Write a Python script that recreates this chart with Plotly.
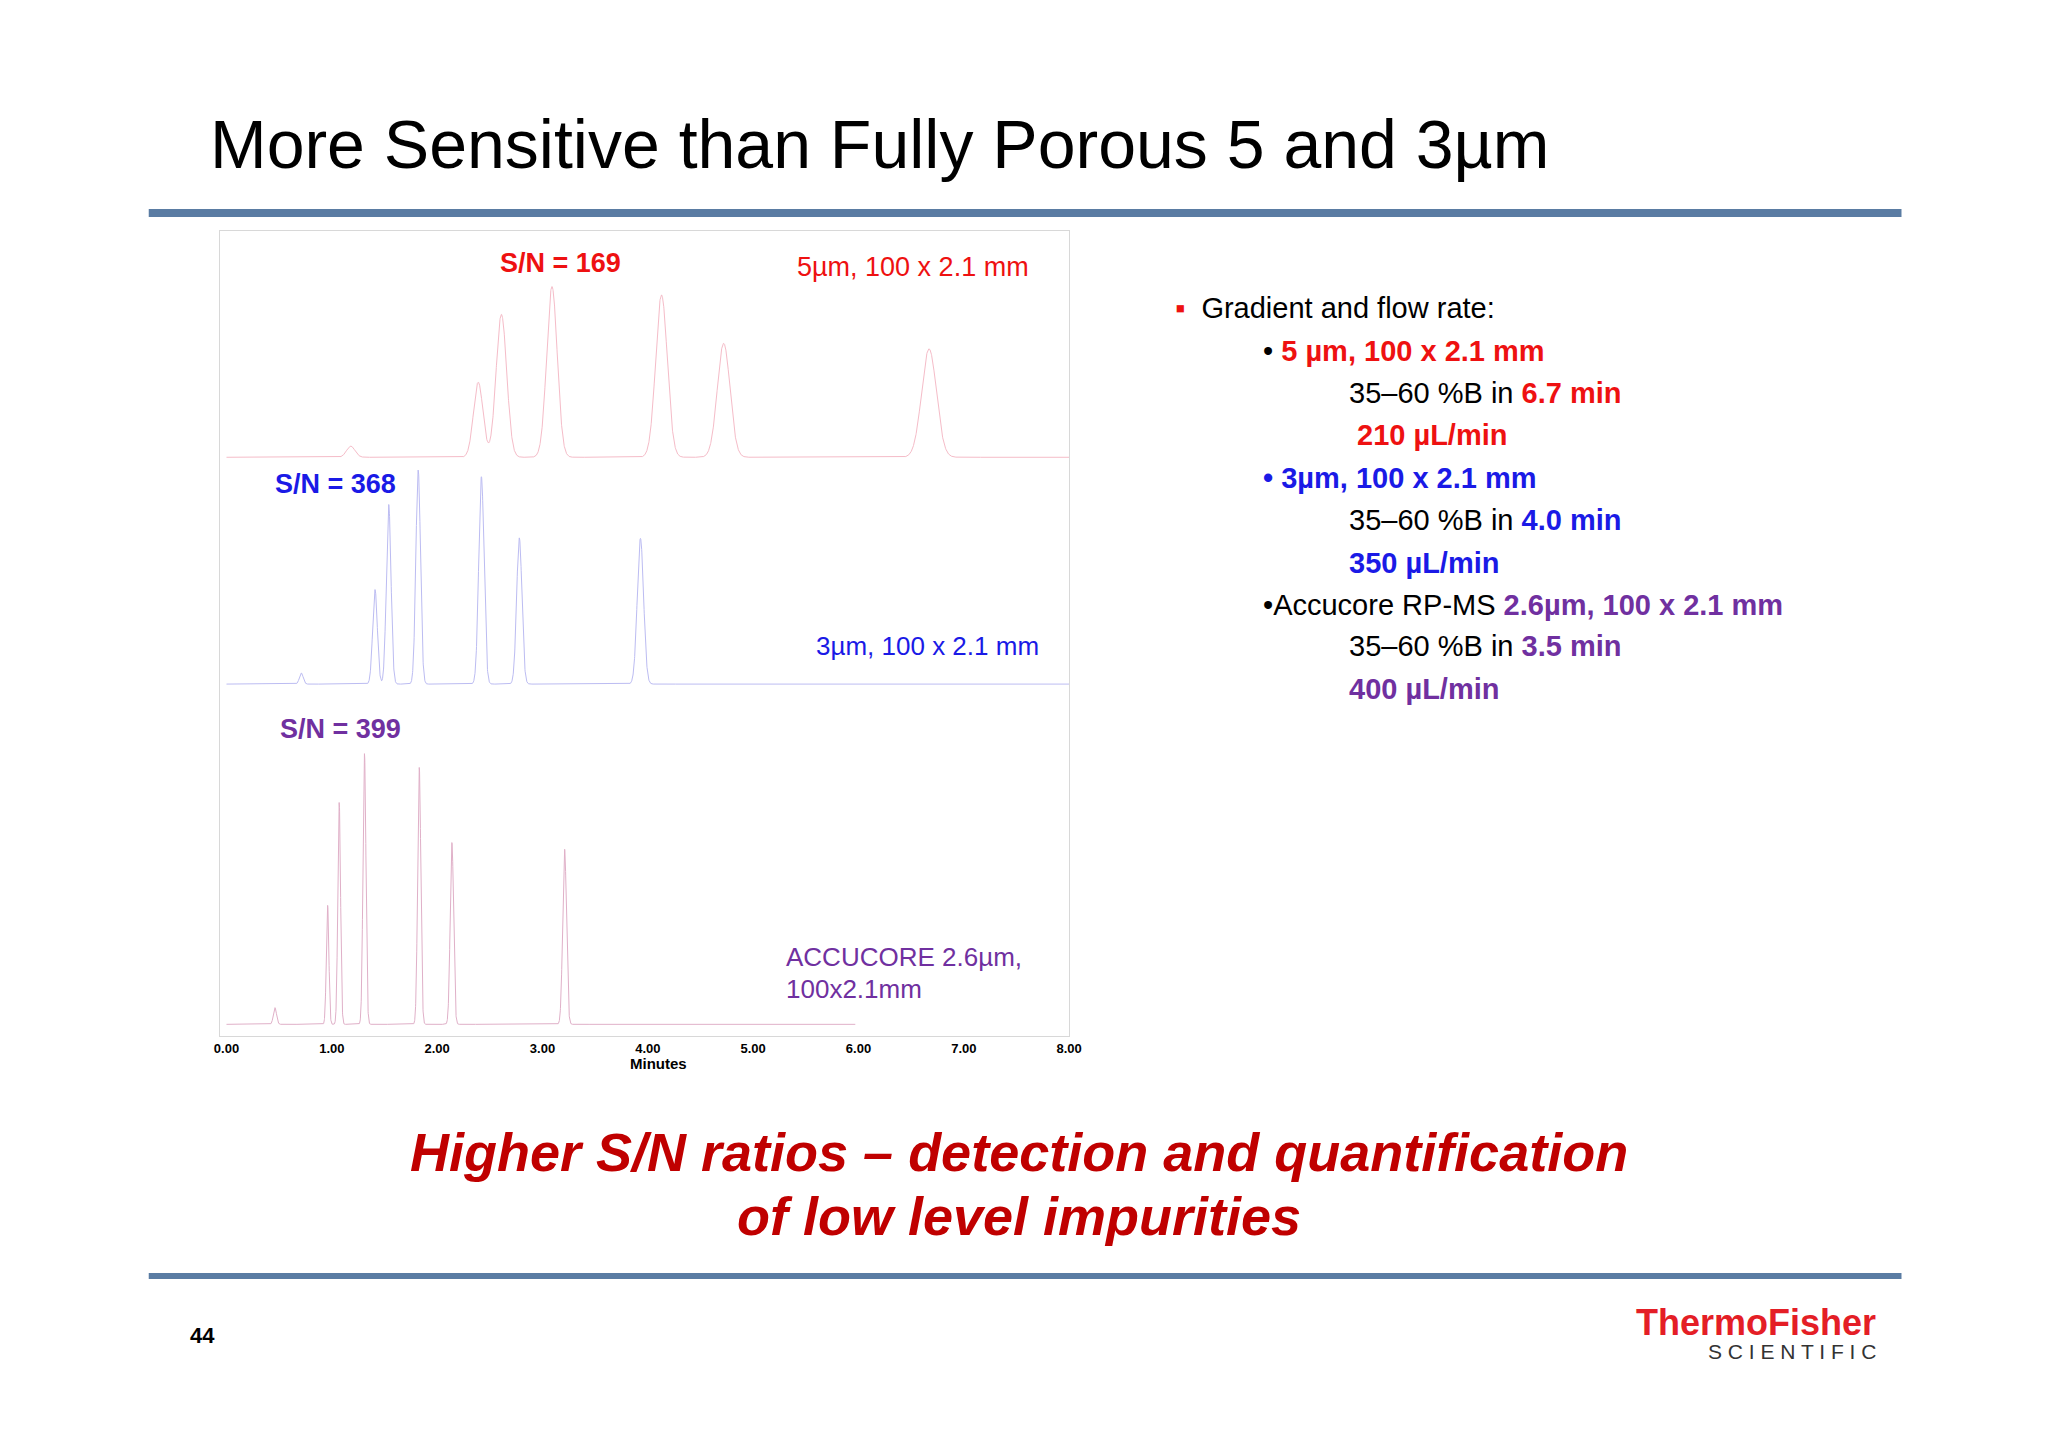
import numpy as np
import plotly.graph_objects as go

W, H = 2048, 1448
DX, DY = -12, -8  # page offset correction
KX = 0.0098       # horizontal scale correction


def fx(x):
    return (x + DX + (x - 148) * KX) / W


def fy(y):
    return 1 - (y + DY) / H


# Peak tables (retention time min, height in plot units, sigma min)
red_rt = [1.18, 2.39, 2.61, 3.09, 4.13, 4.72, 6.67]
red_h = [20, 135, 257, 307, 292, 205, 195]
red_sig = [0.04, 0.045, 0.05, 0.05, 0.055, 0.06, 0.07]
red_base = 1041

blue_rt = [0.71, 1.41, 1.54, 1.82, 2.42, 2.78, 3.93]
blue_h = [20, 170, 323, 385, 373, 263, 262]
blue_sig = [0.018, 0.022, 0.022, 0.022, 0.025, 0.025, 0.03]
blue_base = 633

purple_rt = [0.46, 0.96, 1.07, 1.31, 1.83, 2.14, 3.21]
purple_h = [30, 214, 399, 487, 462, 327, 315]
purple_sig = [0.015, 0.012, 0.013, 0.014, 0.015, 0.016, 0.018]
purple_base = 21

x_ticks = [0, 1, 2, 3, 4, 5, 6, 7, 8]
x_tick_text = ["0.00", "1.00", "2.00", "3.00", "4.00", "5.00", "6.00", "7.00", "8.00"]


def trace_y(t, base, rts, hs, sigs):
    y = np.full_like(t, float(base))
    for rt, h, s in zip(rts, hs, sigs):
        y += h * np.exp(-0.5 * ((t - rt) / s) ** 2)
    return y


t_full = np.linspace(0, 8, 6000)
t_purple = np.linspace(0, 5.97, 6000)

fig = go.Figure()
fig.add_trace(go.Scatter(x=t_full, y=trace_y(t_full, red_base, red_rt, red_h, red_sig),
                         mode="lines", line=dict(color="#f5bcc8", width=1), hoverinfo="skip"))
fig.add_trace(go.Scatter(x=t_full, y=trace_y(t_full, blue_base, blue_rt, blue_h, blue_sig),
                         mode="lines", line=dict(color="#bcbcf2", width=1), hoverinfo="skip"))
fig.add_trace(go.Scatter(x=t_purple, y=trace_y(t_purple, purple_base, purple_rt, purple_h, purple_sig),
                         mode="lines", line=dict(color="#e0b0c8", width=1), hoverinfo="skip"))

RED, BLUE, PURP = "#ee1111", "#1a1ae6", "#7030a0"
F = "Liberation Sans, Arial, sans-serif"

ann = []
def px(x, y, text, size, color="#000", xanchor="left", bold=False, italic=False, yanchor="middle"):
    if bold:
        text = "<b>" + text + "</b>"
    if italic:
        text = "<i>" + text + "</i>"
    ann.append(dict(x=fx(x), y=fy(y), xref="paper", yref="paper", text=text, showarrow=False,
                    xanchor=xanchor, yanchor=yanchor, font=dict(family=F, size=size, color=color)))

px(207, 144, "More Sensitive than Fully Porous 5 and 3µm", 68)
# chart labels
px(560, 263, "S/N = 169", 27, RED, "center", bold=True)
px(1030, 267, "5µm, 100 x 2.1 mm", 27, RED, "right")
px(272, 484, "S/N = 368", 27, BLUE, bold=True)
px(1040, 646, "3µm, 100 x 2.1 mm", 26, BLUE, "right")
px(277, 729, "S/N = 399", 27, PURP, bold=True)
px(783, 957, "ACCUCORE 2.6µm,", 26, PURP)
px(783, 989, "100x2.1mm", 26, PURP)
px(658, 1063, "Minutes", 15, "#000", "center", bold=True)

# right text block
s = 29
px(1172, 308, "<span style='color:%s'>▪</span>  Gradient and flow rate:" % RED, s)
px(1260, 351, "• <b><span style='color:%s'>5 µm, 100 x 2.1 mm</span></b>" % RED, s)
px(1346, 393, "35–60 %%B in <b><span style='color:%s'>6.7 min</span></b>" % RED, s)
px(1354, 435, "210 µL/min", s, RED, bold=True)
px(1260, 478, "<b><span style='color:%s'>• 3µm, 100 x 2.1 mm</span></b>" % BLUE, s)
px(1346, 520, "35–60 %%B in <b><span style='color:%s'>4.0 min</span></b>" % BLUE, s)
px(1346, 563, "350 µL/min", s, BLUE, bold=True)
px(1260, 605, "•Accucore RP-MS <b><span style='color:%s'>2.6µm, 100 x 2.1 mm</span></b>" % PURP, s)
px(1346, 646, "35–60 %%B in <b><span style='color:%s'>3.5 min</span></b>" % PURP, s)
px(1346, 689, "400 µL/min", s, PURP, bold=True)

# bottom message
px(1018, 1152, "Higher S/N ratios – detection and quantification", 54, "#c00000", "center", bold=True, italic=True)
px(1018, 1216, "of low level impurities", 54, "#c00000", "center", bold=True, italic=True)

px(202, 1335, "44", 22, "#000", "center", bold=True)
px(1877, 1322, "ThermoFisher", 36, "#e41e26", "right", bold=True)
px(1877, 1351, "S C I E N T I F I C", 21, "#333", "right")

shapes = [
    dict(type="line", xref="paper", yref="paper", x0=fx(148), x1=fx(1900),
         y0=fy(213), y1=fy(213), line=dict(color="#5a7ca3", width=8)),
    dict(type="line", xref="paper", yref="paper", x0=fx(148), x1=fx(1900),
         y0=fy(1276), y1=fy(1276), line=dict(color="#5a7ca3", width=6)),
]

fig.update_layout(
    width=W, height=H, margin=dict(l=0, r=0, t=0, b=0), autosize=False,
    paper_bgcolor="white", plot_bgcolor="white", showlegend=False,
    annotations=ann, shapes=shapes,
    xaxis=dict(domain=[fx(219.4), fx(1068)], range=[-0.06, 8.0], tickvals=x_ticks,
               ticktext=x_tick_text, showgrid=False, zeroline=False, showline=True, mirror=True,
               linecolor="#d8d8d8", ticks="", tickfont=dict(family=F, size=13, color="#000", weight="bold")),
    yaxis=dict(domain=[fy(1036), fy(231)], range=[0, 1448], showticklabels=False,
               showgrid=False, zeroline=False, showline=True, mirror=True, linecolor="#d8d8d8"),
)

fig.write_html("out.html")
